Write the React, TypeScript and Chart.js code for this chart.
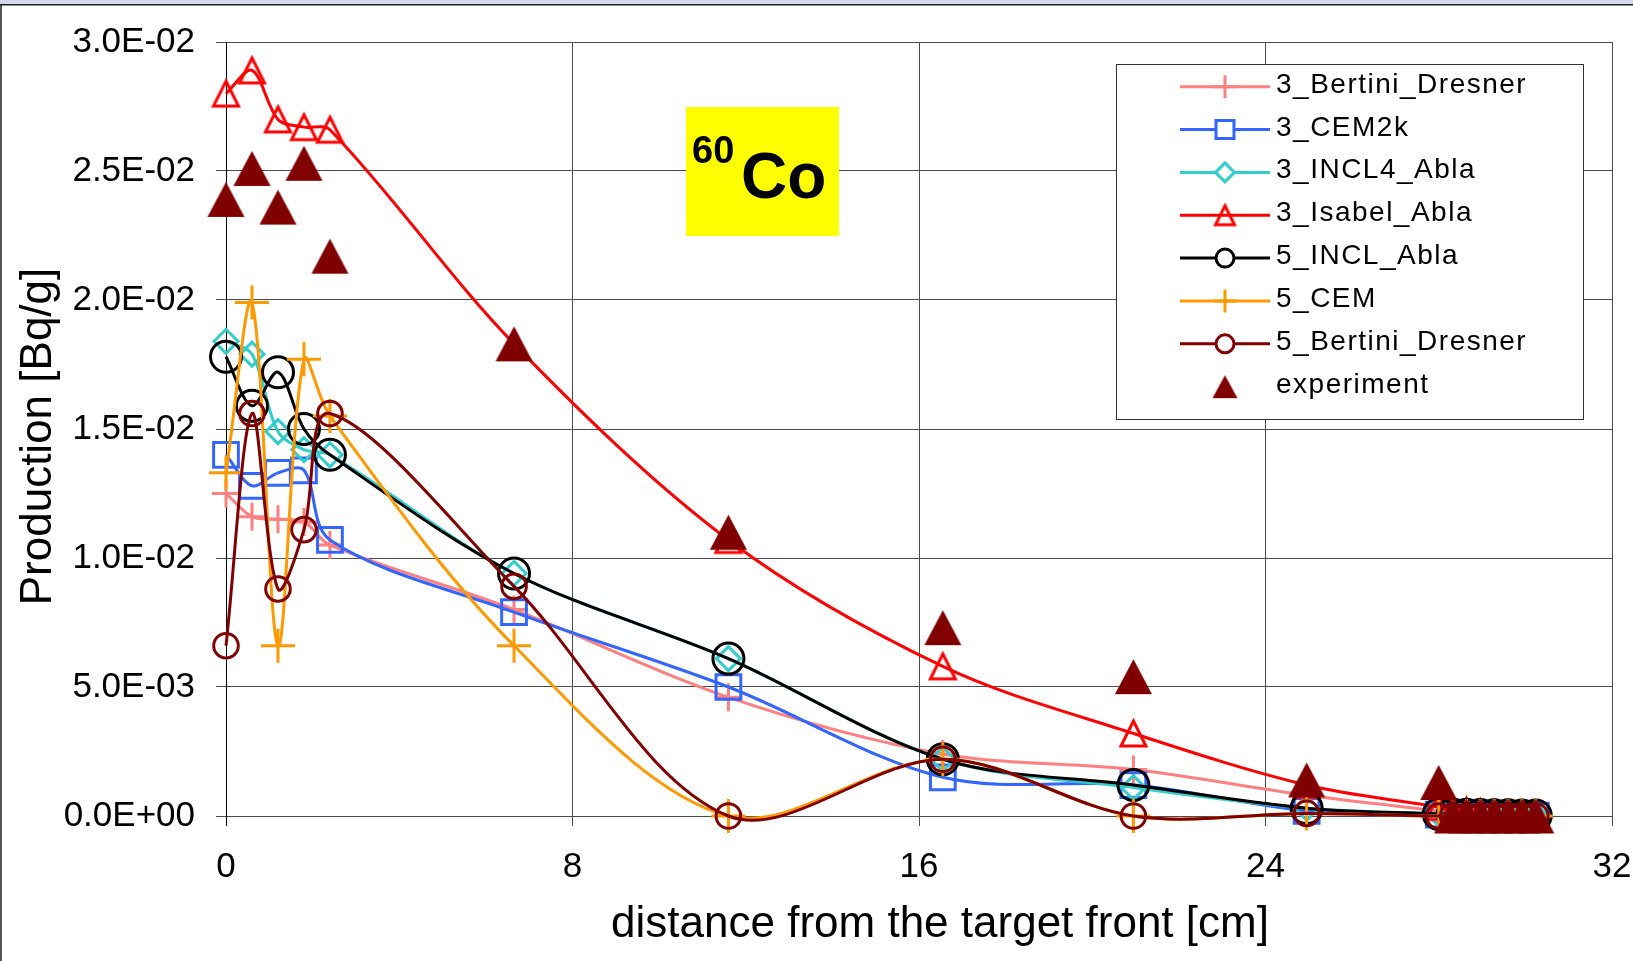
import React, { useEffect, useRef } from 'react';
import { Chart, registerables } from 'chart.js';

Chart.register(...registerables);

// ---------------- data ----------------
const SERIES_NAMES = [
  '3_Bertini_Dresner',
  '3_CEM2k',
  '3_INCL4_Abla',
  '3_Isabel_Abla',
  '5_INCL_Abla',
  '5_CEM',
  '5_Bertini_Dresner',
  'experiment',
];

const DISTANCE_CM = [0, 0.6, 1.2, 1.8, 2.4, 6.65, 11.6, 16.55, 20.95, 24.95, 28.0, 28.32, 28.64, 28.96, 29.28, 29.6, 29.92, 30.24];

const BERTINI_DRESNER_3 = [0.0125, 0.0116, 0.0115, 0.0114, 0.0105, 0.0080, 0.0046, 0.0024, 0.0018, 0.0008, 0.0002, 0.00015, 0.0001, 0.0001, 0.00008, 0.00006, 0.00005, 0.00004];
const CEM2K_3 = [0.0140, 0.0128, 0.0133, 0.0134, 0.0107, 0.0079, 0.0050, 0.0015, 0.0012, 0.0002, 0.00005, 0.00004, 0.00003, 0.00003, 0.00002, 0.00002, 0.00001, 0.00001];
const INCL4_ABLA_3 = [0.0184, 0.0179, 0.0149, 0.0142, 0.0140, 0.0094, 0.0061, 0.0022, 0.0011, 0.0003, 0.00008, 0.00006, 0.00005, 0.00004, 0.00003, 0.00003, 0.00002, 0.00002];
const ISABEL_ABLA_3 = [0.0280, 0.0289, 0.0270, 0.0267, 0.0266, 0.0183, 0.0107, 0.0058, 0.0032, 0.0012, 0.00035, 0.00025, 0.0002, 0.00015, 0.0001, 0.00008, 0.00006, 0.00005];
const INCL_ABLA_5 = [0.0178, 0.0159, 0.0172, 0.0150, 0.0140, 0.0094, 0.0061, 0.0022, 0.0012, 0.0003, 0.00008, 0.00006, 0.00005, 0.00004, 0.00003, 0.00003, 0.00002, 0.00002];
const CEM_5 = [0.0133, 0.0199, 0.0066, 0.0177, 0.0155, 0.0066, 0.0, 0.0022, 0.0, 0.0001, 0, 0, 0, 0, 0, 0, 0, 0];
const BERTINI_DRESNER_5 = [0.0066, 0.0156, 0.0088, 0.0111, 0.0156, 0.0089, 0.0, 0.0022, 0.0, 0.0001, 0, 0, 0, 0, 0, 0, 0, 0];
const EXPERIMENT = [0.0239, 0.0251, 0.0236, 0.0253, 0.0217, 0.0183, 0.0110, 0.0073, 0.0054, 0.0014, 0.0013, 0, 0, 0, 0, 0, 0, 0];

const SERIES_VALUES = [BERTINI_DRESNER_3, CEM2K_3, INCL4_ABLA_3, ISABEL_ABLA_3, INCL_ABLA_5, CEM_5, BERTINI_DRESNER_5, EXPERIMENT];

const X_TICKS = [0, 8, 16, 24, 32];
const X_TICK_LABELS = ['0', '8', '16', '24', '32'];
const Y_TICKS = [0, 0.005, 0.01, 0.015, 0.02, 0.025, 0.03];
const Y_TICK_LABELS = ['0.0E+00', '5.0E-03', '1.0E-02', '1.5E-02', '2.0E-02', '2.5E-02', '3.0E-02'];

const X_TITLE = 'distance from the target front [cm]';
const Y_TITLE = 'Production [Bq/g]';
const NUCLIDE_MASS = '60';
const NUCLIDE_SYMBOL = 'Co';

// ---------------- styles ----------------
const FONT = "'Liberation Sans', Arial, Helvetica, sans-serif";

type Style = {
  color: string;
  point: string;
  radius?: number;
  legendRadius?: number;
  w?: number;
  h?: number;
  lw?: number;
  legendW?: number;
  legendH?: number;
  line: boolean;
  filled?: boolean;
};

const STYLES: Style[] = [
  { color: '#FF8080', point: 'cross', radius: 14, legendRadius: 11.5, line: true },
  { color: '#3366FF', point: 'rect', radius: 17.5, legendRadius: 12.7, line: true },
  { color: '#33CCCC', point: 'rectRot', radius: 12, legendRadius: 9.5, line: true },
  { color: '#FF0000', point: 'tri', w: 25, h: 25, lw: 3, legendW: 19, legendH: 19, line: true, filled: false },
  { color: '#000000', point: 'circle', radius: 15.5, legendRadius: 9, line: true },
  { color: '#FF9900', point: 'cross', radius: 17, legendRadius: 11.5, line: true },
  { color: '#800000', point: 'circle', radius: 12.3, legendRadius: 9, line: true },
  { color: '#800000', point: 'tri', w: 37, h: 35, lw: 0, legendW: 25, legendH: 23, line: false, filled: true },
];

function makeTriangle(w: number, h: number, color: string, filled: boolean, lw: number) {
  const c = document.createElement('canvas');
  const pad = Math.ceil(lw) + 2;
  c.width = Math.round(w + pad * 2);
  c.height = Math.round(h + pad * 2);
  const ctx = c.getContext('2d')!;
  const cx = c.width / 2;
  const cy = c.height / 2;
  ctx.beginPath();
  ctx.moveTo(cx, cy - h / 2);
  ctx.lineTo(cx + w / 2, cy + h / 2);
  ctx.lineTo(cx - w / 2, cy + h / 2);
  ctx.closePath();
  if (filled) {
    ctx.fillStyle = color;
    ctx.fill();
  } else {
    ctx.strokeStyle = color;
    ctx.lineWidth = lw;
    ctx.lineJoin = 'miter';
    ctx.stroke();
  }
  return c;
}

function drawLegendMarker(ctx: CanvasRenderingContext2D, st: Style, x: number, y: number, img: any) {
  ctx.save();
  ctx.strokeStyle = st.color;
  ctx.fillStyle = st.color;
  ctx.lineWidth = 3;
  const r = st.legendRadius || 10;
  ctx.beginPath();
  if (st.point === 'cross') {
    ctx.moveTo(x, y - r);
    ctx.lineTo(x, y + r);
    ctx.moveTo(x - r, y);
    ctx.lineTo(x + r, y);
    ctx.stroke();
  } else if (st.point === 'rect') {
    const s = Math.SQRT1_2 * r;
    ctx.fillStyle = '#FFFFFF';
    ctx.rect(x - s, y - s, 2 * s, 2 * s);
    ctx.fill();
    ctx.stroke();
  } else if (st.point === 'rectRot') {
    ctx.fillStyle = '#FFFFFF';
    ctx.moveTo(x - r, y);
    ctx.lineTo(x, y - r);
    ctx.lineTo(x + r, y);
    ctx.lineTo(x, y + r);
    ctx.closePath();
    ctx.fill();
    ctx.stroke();
  } else if (st.point === 'circle') {
    ctx.fillStyle = '#FFFFFF';
    ctx.arc(x, y, r, 0, Math.PI * 2);
    ctx.fill();
    ctx.stroke();
  } else if (img) {
    ctx.drawImage(img, x - img.width / 2, y - img.height / 2);
  }
  ctx.restore();
}

export default function App() {
  const ref = useRef<HTMLCanvasElement>(null);

  useEffect(() => {
    document.body.style.margin = '0';
    document.body.style.overflow = 'hidden';
    Chart.defaults.font.family = FONT;

    const pointImages = STYLES.map((st) =>
      st.point === 'tri' ? makeTriangle(st.w!, st.h!, st.color, !!st.filled, st.lw || 0) : null
    );
    const legendImages = STYLES.map((st) =>
      st.point === 'tri' ? makeTriangle(st.legendW!, st.legendH!, st.color, !!st.filled, st.lw || 0) : null
    );

    const framePlugin = {
      id: 'frame',
      beforeDraw(chart: any) {
        const { ctx, width, height } = chart;
        ctx.save();
        ctx.fillStyle = '#FFFFFF';
        ctx.fillRect(0, 0, width, height);
        ctx.fillStyle = '#D4D8EA';
        ctx.fillRect(0, 0, width, 4);
        ctx.strokeStyle = '#222222';
        ctx.lineWidth = 1.5;
        ctx.beginPath();
        ctx.moveTo(0, 4.75);
        ctx.lineTo(width, 4.75);
        ctx.moveTo(1, 4);
        ctx.lineTo(1, height);
        ctx.stroke();
        ctx.restore();
      },
    };

    const overlayPlugin = {
      id: 'overlay',
      afterDraw(chart: any) {
        const ctx: CanvasRenderingContext2D = chart.ctx;
        ctx.save();

        // axis titles
        ctx.fillStyle = '#000000';
        ctx.font = `44px ${FONT}`;
        ctx.textAlign = 'center';
        ctx.textBaseline = 'middle';
        ctx.fillText(X_TITLE, 940, 925);
        ctx.save();
        ctx.translate(38.5, 436.5);
        ctx.rotate(-Math.PI / 2);
        ctx.fillText(Y_TITLE, 0, 0);
        ctx.restore();

        // nuclide label
        ctx.fillStyle = '#FFFF00';
        ctx.fillRect(686, 107, 153, 129);
        ctx.fillStyle = '#000000';
        ctx.textBaseline = 'alphabetic';
        ctx.textAlign = 'left';
        ctx.font = `bold 38px ${FONT}`;
        ctx.fillText(NUCLIDE_MASS, 692, 163);
        ctx.font = `bold 64px ${FONT}`;
        ctx.fillText(NUCLIDE_SYMBOL, 741, 198);

        // legend box
        const bx = 1116.5, by = 64.5, bw = 467, bh = 355;
        ctx.fillStyle = '#FFFFFF';
        ctx.fillRect(bx, by, bw, bh);
        ctx.strokeStyle = '#333333';
        ctx.lineWidth = 1;
        ctx.strokeRect(bx, by, bw, bh);

        const rowStart = 86.7;
        const rowGap = 42.85;
        chart.data.datasets.forEach((ds: any, i: number) => {
          const st = STYLES[i];
          const y = rowStart + i * rowGap;
          if (st.line) {
            ctx.strokeStyle = st.color;
            ctx.lineWidth = 3;
            ctx.beginPath();
            ctx.moveTo(1180, y);
            ctx.lineTo(1270, y);
            ctx.stroke();
          }
          drawLegendMarker(ctx, st, 1225, y, legendImages[i]);
          ctx.fillStyle = '#000000';
          ctx.font = `28px ${FONT}`;
          (ctx as any).letterSpacing = '1.5px';
          ctx.textAlign = 'left';
          ctx.textBaseline = 'alphabetic';
          ctx.fillText(ds.label, 1276, y + 6);
          (ctx as any).letterSpacing = '0px';
        });
        ctx.restore();
      },
    };

    const datasets = SERIES_NAMES.map((name, i) => {
      const st = STYLES[i];
      const values = SERIES_VALUES[i];
      return {
        label: name,
        data: DISTANCE_CM.map((x, j) => ({ x, y: values[j] })),
        borderColor: st.color,
        backgroundColor: 'rgba(0,0,0,0)',
        borderWidth: 3,
        showLine: st.line,
        tension: 0.33,
        pointStyle: pointImages[i] || st.point,
        pointRadius: st.radius || 18,
        pointBorderWidth: 3,
        pointBorderColor: st.color,
        pointBackgroundColor: 'rgba(0,0,0,0)',
        clip: false,
        order: SERIES_NAMES.length - 1 - i,
      };
    });

    const gridGrey = '#4D4D4D';

    const chart = new Chart(ref.current!, {
      type: 'line',
      data: { datasets },
      options: {
        animation: false,
        responsive: false,
        devicePixelRatio: 1,
        layout: { padding: { top: 40, right: 18, bottom: 0, left: 0 } },
        plugins: { legend: { display: false }, tooltip: { enabled: false } },
        elements: { line: { capBezierPoints: false } },
        scales: {
          x: {
            type: 'linear',
            min: 0,
            max: 32,
            afterBuildTicks: (s: any) => {
              s.ticks = X_TICKS.map((v) => ({ value: v }));
            },
            afterFit: (s: any) => {
              s.height = 145;
              s.paddingLeft = 0;
              s.paddingRight = 0;
            },
            ticks: {
              color: '#000000',
              font: { size: 35, lineHeight: 1 },
              padding: 24,
              maxRotation: 0,
              autoSkip: false,
              callback: (_v: any, idx: number) => X_TICK_LABELS[idx],
            },
            grid: {
              color: (c: any) => (c.tick && c.tick.value === 0 ? '#000000' : gridGrey),
              lineWidth: 1,
              tickLength: 10,
            },
            border: { color: gridGrey, width: 1 },
            title: { display: false, text: X_TITLE },
          },
          y: {
            type: 'linear',
            min: 0,
            max: 0.03,
            afterBuildTicks: (s: any) => {
              s.ticks = Y_TICKS.map((v) => ({ value: v }));
            },
            afterFit: (s: any) => {
              s.width = 226;
            },
            ticks: {
              color: '#000000',
              font: { size: 35, lineHeight: 1.2 },
              padding: 21,
              autoSkip: false,
              callback: (_v: any, idx: number) => Y_TICK_LABELS[idx],
            },
            grid: { color: gridGrey, lineWidth: 1, tickLength: 10 },
            border: { color: '#000000', width: 1 },
            title: { display: false, text: Y_TITLE },
          },
        },
      },
      plugins: [framePlugin, overlayPlugin],
    } as any);

    return () => chart.destroy();
  }, []);

  return (
    <div style={{ width: 1633, height: 961, position: 'relative' }}>
      <canvas ref={ref} width={1633} height={961} style={{ display: 'block' }} />
    </div>
  );
}
